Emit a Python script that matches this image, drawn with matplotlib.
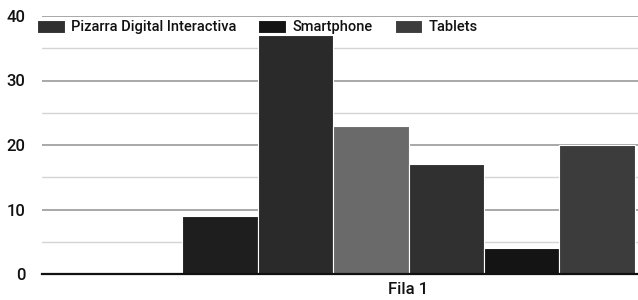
import matplotlib.pyplot as plt
import numpy as np

plt.rcParams['font.family'] = ['Roboto', 'DejaVu Sans']

categories = ["Fila 1"]
series_names = ["Serie 1", "Serie 2", "Serie 3",
                "Pizarra Digital Interactiva", "Smartphone", "Tablets"]
values = [9, 37, 23, 17, 4, 20]
colors = ["#1e1e1e", "#2a2a2a", "#6a6a6a", "#303030", "#141414", "#3c3c3c"]
# only these series show in the visible part of the legend
legend_series = [3, 4, 5]

fig = plt.figure(figsize=(6.38, 3.0), dpi=100)
# the reference is cropped on the right, so the axes run past the figure edge
ax = fig.add_axes([42 / 638, 26 / 300, 733 / 638, 258 / 300])

width = 0.103
n = len(values)
bars = []
for i, (name, v, c) in enumerate(zip(series_names, values, colors)):
    b = ax.bar((i - (n - 1) / 2) * width, v, width=width, color=c,
               edgecolor="white", linewidth=0.8, zorder=3, label=name)
    bars.append(b)

ax.set_xlim(-0.5, 0.5)
ax.set_ylim(0, 40)
ax.set_yticks([0, 10, 20, 30, 40])
ax.set_yticks([5, 15, 25, 35], minor=True)
ax.set_xticks([0])
ax.set_xticklabels(categories)
ax.grid(axis="y", which="major", color="#9a9a9a", linewidth=1.2, zorder=0)
ax.grid(axis="y", which="minor", color="#d4d4d4", linewidth=1.0, zorder=0)
ax.tick_params(axis="both", which="both", length=0, labelsize=12, colors="#111111")
ax.tick_params(axis="y", pad=12)
ax.tick_params(axis="x", pad=6)
for lbl in ax.get_xticklabels() + ax.get_yticklabels():
    lbl.set_fontweight("medium")
for s in ["top", "right", "left"]:
    ax.spines[s].set_visible(False)
ax.spines["bottom"].set_color("#111111")
ax.spines["bottom"].set_linewidth(1.6)
ax.spines["bottom"].set_zorder(4)

leg = fig.legend([bars[i] for i in legend_series],
                 [series_names[i] for i in legend_series],
                 loc="upper left", bbox_to_anchor=(31 / 638, 1 - 14 / 300),
                 ncol=3, frameon=False, handlelength=1.9,
                 handleheight=1.0, handletextpad=0.45, columnspacing=1.5,
                 borderaxespad=0, prop={"size": 10.5, "weight": "medium"})
for t in leg.get_texts():
    t.set_color("#111111")

fig.savefig("out.png", dpi=100)
